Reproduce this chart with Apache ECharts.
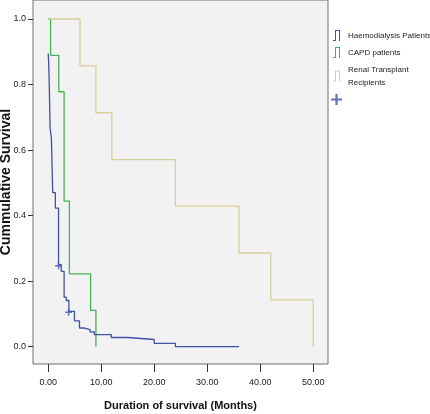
<!DOCTYPE html>
<html>
<head>
<meta charset="utf-8">
<style>html,body{margin:0;padding:0;background:#fff;}#chart{width:430px;height:414px;}</style>
<script src="https://cdn.jsdelivr.net/npm/echarts@6.0.0/dist/echarts.min.js"></script>
</head>
<body>
<div id="chart"></div>
<script>
// Tick labels
const xTicks = [0, 10, 20, 30, 40, 50];
const yTicks = [0, 0.2, 0.4, 0.6, 0.8, 1.0];
// Series names
const seriesNames = ['Haemodialysis Patients', 'CAPD patients', 'Renal Transplant\nRecipients'];
// Haemodialysis Patients (Kaplan-Meier step points)
const hdTime = [0, 0.08, 0.2, 0.35, 0.6, 0.85, 1.35, 1.95, 2.45, 3.0, 3.4, 3.9, 4.95, 5.9, 6.85, 7.9, 8.7, 11.9, 15.0, 20.0, 24.0, 36.0];
const hdSurv = [0.895, 0.87, 0.80, 0.667, 0.636, 0.47, 0.423, 0.25, 0.23, 0.151, 0.141, 0.108, 0.079, 0.057, 0.052, 0.045, 0.037, 0.028, 0.022, 0.01, 0, 0];
// CAPD patients
const capdTime = [0, 0.45, 2, 3, 4, 8, 9];
const capdSurv = [1, 0.889, 0.778, 0.444, 0.222, 0.111, 0];
// Renal Transplant Recipients
const rtTime = [0, 6, 9, 12, 24, 36, 42, 50];
const rtSurv = [1, 0.857, 0.714, 0.571, 0.429, 0.286, 0.143, 0];
// Censored (+) marks, haemodialysis
const censorTime = [1.95, 3.85];
const censorSurv = [0.247, 0.105];

const zip = (a, b) => a.map((v, i) => [v, b[i]]);
const SANS = "'Liberation Sans',Arial,Helvetica,sans-serif";
const stepIcon = 'path://M0,100H20V0H70V110H60V10H30V110H0Z';
const plusIcon = 'path://M40,0H60V100H40ZM0,40H100V60H0Z';
const colors = ['#3f51a8', '#46b356', '#d6d09c'];

const chart = echarts.init(document.getElementById('chart'), null, {renderer: 'canvas'});
chart.setOption({
  animation: false,
  backgroundColor: '#ffffff',
  grid: {left: 33, right: 102, top: 0, bottom: 50, containLabel: false, outerBoundsMode: 'none',
         show: true, backgroundColor: '#f2f2f2', borderColor: '#707070', borderWidth: 1},
  legend: {
    orient: 'vertical', left: 326, top: 24, itemWidth: 13, itemHeight: 11, itemGap: 4,
    textStyle: {fontFamily: SANS, fontSize: 8, color: '#222', lineHeight: 13},
    data: [
      {name: seriesNames[0], icon: stepIcon},
      {name: seriesNames[1], icon: stepIcon},
      {name: seriesNames[2], icon: stepIcon},
      {name: ' ', icon: plusIcon}
    ]
  },
  xAxis: {
    type: 'value', min: -2.87, max: 52.79,
    name: 'Duration of survival (Months)', nameLocation: 'middle', nameGap: 36, nameMoveOverlap: false,
    nameTextStyle: {fontFamily: SANS, fontWeight: 'bold', fontSize: 11, color: '#111'},
    axisLine: {show: false, onZero: false},
    axisTick: {show: true, inside: false, length: 8, lineStyle: {color: '#333'}, customValues: xTicks},
    axisLabel: {customValues: xTicks, margin: 14, fontFamily: SANS, fontSize: 9, color: '#222', formatter: v => v.toFixed(2)},
    splitLine: {show: false}
  },
  yAxis: {
    type: 'value', min: -0.0528, max: 1.058,
    name: 'Cummulative Survival', nameLocation: 'middle', nameGap: 20, nameRotate: 90, nameMoveOverlap: false,
    nameTextStyle: {fontFamily: SANS, fontWeight: 'bold', fontSize: 14, color: '#111'},
    axisLine: {show: false, onZero: false},
    axisTick: {show: true, inside: false, length: 5, lineStyle: {color: '#333'}, customValues: yTicks},
    axisLabel: {customValues: yTicks, margin: 7, fontFamily: SANS, fontSize: 9, color: '#222', formatter: v => v.toFixed(1)},
    splitLine: {show: false}
  },
  series: [
    {name: seriesNames[0], type: 'line', step: 'end', data: zip(hdTime, hdSurv), showSymbol: false, symbol: 'none',
     color: colors[0], lineStyle: {width: 1.3, color: colors[0]}, z: 3},
    {name: seriesNames[1], type: 'line', step: 'end', data: zip(capdTime, capdSurv), showSymbol: false, symbol: 'none',
     color: colors[1], lineStyle: {width: 1.3, color: colors[1]}, z: 2},
    {name: seriesNames[2], type: 'line', step: 'end', data: zip(rtTime, rtSurv), showSymbol: false, symbol: 'none',
     color: colors[2], lineStyle: {width: 1.3, color: colors[2]}, z: 4},
    {name: ' ', type: 'scatter', data: zip(censorTime, censorSurv), symbol: plusIcon, symbolSize: 7,
     color: colors[0], itemStyle: {color: colors[0]}, z: 5}
  ]
});
</script>
</body>
</html>
